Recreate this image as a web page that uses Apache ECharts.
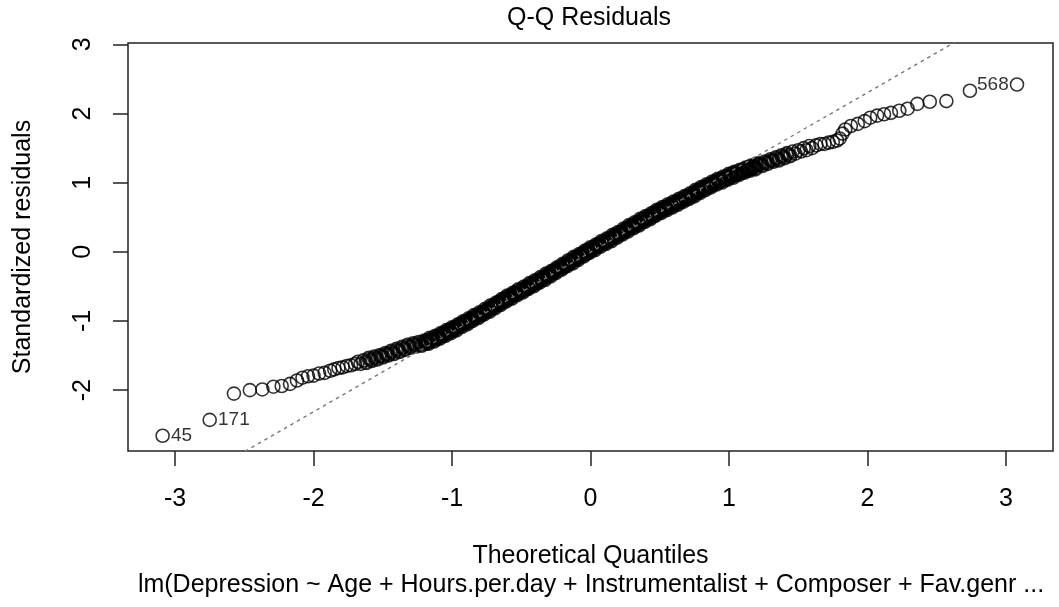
<!DOCTYPE html>
<html>
<head>
<meta charset="utf-8">
<title>Q-Q Residuals</title>
<script src="https://cdn.jsdelivr.net/npm/echarts@6.0.0/dist/echarts.min.js"></script>
<style>
  html, body { margin: 0; padding: 0; background: #fff; }
  #chart { width: 1059px; height: 607px; }
</style>
</head>
<body>
<div id="chart"></div>
<script>
// theoretical quantiles / standardized residuals
// lower tail (first two points are the labelled 45 and 171)
var qLow = [-3.09, -2.75, -2.575, -2.46, -2.37, -2.29, -2.23, -2.17,
  -2.12, -2.08, -2.04, -2.00, -1.96, -1.92, -1.88, -1.85, -1.82, -1.79,
  -1.76, -1.73, -1.70,
  -1.68, -1.66, -1.64, -1.62, -1.60, -1.58, -1.56, -1.54, -1.52, -1.50,
  -1.48, -1.46, -1.44, -1.42, -1.40, -1.38, -1.36, -1.34, -1.32, -1.30,
  -1.28, -1.26, -1.24, -1.22];
var resLow = [-2.66, -2.43, -2.05, -2.00, -1.99, -1.95, -1.94, -1.91,
  -1.86, -1.82, -1.80, -1.79, -1.76, -1.75, -1.72, -1.70, -1.68, -1.67,
  -1.65, -1.64, -1.62,
  -1.59, -1.62, -1.57, -1.60, -1.54, -1.57, -1.52, -1.55, -1.50, -1.52,
  -1.47, -1.49, -1.44, -1.47, -1.41, -1.44, -1.38, -1.41, -1.35, -1.38,
  -1.33, -1.36, -1.31, -1.35];

// dense middle part (points overlap into a solid band)
var qMid = [
  -1.20, -1.19, -1.18, -1.17, -1.16, -1.15, -1.14, -1.13, -1.12, -1.11,
  -1.10, -1.09, -1.08, -1.07, -1.06, -1.05, -1.04, -1.03, -1.02, -1.01,
  -1.00, -0.99, -0.98, -0.97, -0.96, -0.95, -0.94, -0.93, -0.92, -0.91,
  -0.90, -0.89, -0.88, -0.87, -0.86, -0.85, -0.84, -0.83, -0.82, -0.81,
  -0.80, -0.79, -0.78, -0.77, -0.76, -0.75, -0.74, -0.73, -0.72, -0.71,
  -0.70, -0.69, -0.68, -0.67, -0.66, -0.65, -0.64, -0.63, -0.62, -0.61,
  -0.60, -0.59, -0.58, -0.57, -0.56, -0.55, -0.54, -0.53, -0.52, -0.51,
  -0.50, -0.49, -0.48, -0.47, -0.46, -0.45, -0.44, -0.43, -0.42, -0.41,
  -0.40, -0.39, -0.38, -0.37, -0.36, -0.35, -0.34, -0.33, -0.32, -0.31,
  -0.30, -0.29, -0.28, -0.27, -0.26, -0.25, -0.24, -0.23, -0.22, -0.21,
  -0.20, -0.19, -0.18, -0.17, -0.16, -0.15, -0.14, -0.13, -0.12, -0.11,
  -0.10, -0.09, -0.08, -0.07, -0.06, -0.05, -0.04, -0.03, -0.02, -0.01,
  0.00, 0.01, 0.02, 0.03, 0.04, 0.05, 0.06, 0.07, 0.08, 0.09,
  0.10, 0.11, 0.12, 0.13, 0.14, 0.15, 0.16, 0.17, 0.18, 0.19,
  0.20, 0.21, 0.22, 0.23, 0.24, 0.25, 0.26, 0.27, 0.28, 0.29,
  0.30, 0.31, 0.32, 0.33, 0.34, 0.35, 0.36, 0.37, 0.38, 0.39,
  0.40, 0.41, 0.42, 0.43, 0.44, 0.45, 0.46, 0.47, 0.48, 0.49,
  0.50, 0.51, 0.52, 0.53, 0.54, 0.55, 0.56, 0.57, 0.58, 0.59,
  0.60, 0.61, 0.62, 0.63, 0.64, 0.65, 0.66, 0.67, 0.68, 0.69,
  0.70, 0.71, 0.72, 0.73, 0.74, 0.75, 0.76, 0.77, 0.78, 0.79,
  0.80, 0.81, 0.82, 0.83, 0.84, 0.85, 0.86, 0.87, 0.88, 0.89,
  0.90, 0.91, 0.92, 0.93, 0.94, 0.95, 0.96, 0.97, 0.98, 0.99,
  1.00, 1.01, 1.02, 1.03, 1.04, 1.05, 1.06, 1.07, 1.08, 1.09,
  1.10, 1.11, 1.12, 1.13, 1.14, 1.15, 1.16, 1.17, 1.18, 1.19,
  1.20];
var resMid = [
  -1.29, -1.32, -1.29, -1.32, -1.25, -1.28, -1.26, -1.29, -1.22, -1.25,
  -1.22, -1.25, -1.18, -1.21, -1.18, -1.21, -1.14, -1.17, -1.14, -1.17,
  -1.10, -1.13, -1.10, -1.13, -1.06, -1.08, -1.05, -1.08, -1.01, -1.04,
  -1.01, -1.04, -0.97, -1.00, -0.97, -0.99, -0.92, -0.95, -0.92, -0.95,
  -0.88, -0.91, -0.88, -0.90, -0.83, -0.86, -0.83, -0.86, -0.78, -0.81,
  -0.78, -0.81, -0.74, -0.76, -0.73, -0.76, -0.69, -0.72, -0.68, -0.71,
  -0.64, -0.67, -0.64, -0.67, -0.60, -0.62, -0.59, -0.62, -0.55, -0.58,
  -0.55, -0.58, -0.51, -0.54, -0.51, -0.53, -0.46, -0.49, -0.46, -0.49,
  -0.42, -0.45, -0.42, -0.44, -0.37, -0.40, -0.37, -0.40, -0.32, -0.35,
  -0.32, -0.35, -0.28, -0.30, -0.27, -0.30, -0.23, -0.26, -0.22, -0.25,
  -0.18, -0.21, -0.18, -0.20, -0.13, -0.16, -0.13, -0.16, -0.08, -0.11,
  -0.08, -0.11, -0.04, -0.06, -0.03, -0.06, 0.01, -0.02, 0.02, -0.01,
  0.06, 0.03, 0.06, 0.03, 0.10, 0.08, 0.11, 0.08, 0.15, 0.12,
  0.15, 0.12, 0.19, 0.16, 0.19, 0.16, 0.24, 0.21, 0.24, 0.21,
  0.28, 0.25, 0.28, 0.26, 0.33, 0.30, 0.33, 0.30, 0.38, 0.35,
  0.38, 0.35, 0.42, 0.39, 0.42, 0.39, 0.47, 0.44, 0.47, 0.44,
  0.51, 0.48, 0.51, 0.48, 0.55, 0.52, 0.56, 0.53, 0.60, 0.57,
  0.60, 0.57, 0.64, 0.61, 0.64, 0.61, 0.68, 0.65, 0.68, 0.65,
  0.72, 0.69, 0.72, 0.69, 0.76, 0.73, 0.76, 0.73, 0.80, 0.77,
  0.80, 0.77, 0.84, 0.81, 0.84, 0.81, 0.89, 0.86, 0.89, 0.86,
  0.93, 0.90, 0.93, 0.90, 0.97, 0.94, 0.97, 0.94, 1.01, 0.98,
  1.01, 0.98, 1.05, 1.02, 1.05, 1.01, 1.08, 1.05, 1.08, 1.05,
  1.12, 1.09, 1.12, 1.08, 1.15, 1.12, 1.15, 1.12, 1.18, 1.15,
  1.18, 1.15, 1.21, 1.18, 1.21, 1.18, 1.24, 1.21, 1.24, 1.20,
  1.27];

// upper tail (last point is the labelled 568)
var qHigh = [1.22, 1.24, 1.26, 1.28, 1.30, 1.32, 1.34, 1.36, 1.38, 1.40,
  1.42, 1.44, 1.46, 1.48, 1.50, 1.52, 1.54, 1.56, 1.58, 1.60,
  1.63, 1.66, 1.69, 1.72, 1.75, 1.78, 1.80, 1.82,
  1.84, 1.88, 1.93, 1.98, 2.02, 2.07, 2.12, 2.17, 2.23, 2.29, 2.36, 2.45,
  2.57, 2.74, 3.08];
var resHigh = [1.27, 1.25, 1.30, 1.28, 1.33, 1.31, 1.36, 1.33, 1.39, 1.36,
  1.42, 1.39, 1.45, 1.42, 1.47, 1.45, 1.50, 1.47, 1.53, 1.50,
  1.54, 1.56, 1.56, 1.58, 1.59, 1.61, 1.64, 1.71,
  1.77, 1.82, 1.85, 1.89, 1.94, 1.97, 1.99, 2.01, 2.04, 2.07, 2.14, 2.17,
  2.18, 2.33, 2.42];

// dotted reference line (qqline), two ends
var refQ = [-3.34, 3.34];
var refRes = [-3.86, 3.85];

var idLabels = ['45', '171', '568'];
var xTicks = [-3, -2, -1, 0, 1, 2, 3];
var yTicks = [-2, -1, 0, 1, 2, 3];

// where the circles pile up so much the band turns solid
var denseFrom = -1.62;
var denseTo = 1.44;

var FONT = '"Liberation Sans", Arial, Helvetica, sans-serif';

var theoQ = qLow.concat(qMid, qHigh);
var stdRes = resLow.concat(resMid, resHigh);
var n = theoQ.length;
var idIndex = [0, 1, n - 1];

var sparsePts = [];
var densePts = [];
for (var i = 0; i < n; i++) {
  var item = { value: [theoQ[i], stdRes[i]] };
  var k = idIndex.indexOf(i);
  if (k >= 0) {
    item.label = {
      show: true,
      formatter: idLabels[k],
      position: theoQ[i] < 0 ? 'right' : 'left',
      distance: 1,
      fontSize: 19,
      fontFamily: FONT,
      color: '#000'
    };
  }
  if (theoQ[i] >= denseFrom && theoQ[i] <= denseTo) densePts.push(item);
  else sparsePts.push(item);
}

var refLine = [];
for (var j = 0; j < refQ.length; j++) refLine.push([refQ[j], refRes[j]]);

var chart = echarts.init(document.getElementById('chart'));
var option = {
  animation: false,
  backgroundColor: '#fff',
  grid: {
    left: 128, top: 43, width: 925, height: 408,
    show: true, borderColor: '#222', borderWidth: 1.5
  },
  xAxis: {
    type: 'value', min: -3.34, max: 3.34,
    name: 'Theoretical Quantiles', nameLocation: 'middle', nameGap: 93,
    nameTextStyle: { fontSize: 25, fontFamily: FONT, color: '#000' },
    axisLine: { show: false, onZero: false },
    splitLine: { show: false },
    axisTick: { show: true, customValues: xTicks, length: 15, lineStyle: { color: '#222', width: 1.5 } },
    axisLabel: { customValues: xTicks, fontSize: 25, fontFamily: FONT, color: '#000', margin: 36 }
  },
  yAxis: {
    type: 'value', min: -2.88, max: 3.02,
    name: 'Standardized residuals', nameLocation: 'middle', nameGap: 92, nameRotate: 90,
    nameTextStyle: { fontSize: 25, fontFamily: FONT, color: '#000' },
    axisLine: { show: false, onZero: false },
    splitLine: { show: false },
    axisTick: { show: true, customValues: yTicks, length: 15, lineStyle: { color: '#222', width: 1.5 } },
    axisLabel: { customValues: yTicks, rotate: 90, fontSize: 25, fontFamily: FONT, color: '#000', margin: 32 }
  },
  graphic: [
    {
      type: 'text', left: 591 - 84, top: 6,
      style: { text: 'Q-Q Residuals', fontSize: 25, fontFamily: FONT, fill: '#000' }
    },
    {
      type: 'text', x: 591, y: 585,
      style: {
        text: 'lm(Depression ~ Age + Hours.per.day + Instrumentalist + Composer + Fav.genr ...',
        fontSize: 25, fontFamily: FONT, fill: '#000', align: 'center', verticalAlign: 'middle'
      }
    }
  ],
  series: [
    {
      type: 'scatter',
      data: sparsePts,
      symbol: 'circle',
      symbolSize: 13,
      itemStyle: { color: 'rgba(0,0,0,0)', borderColor: '#000', borderWidth: 1.6 },
      emphasis: { disabled: true },
      z: 2
    },
    {
      type: 'scatter',
      data: densePts,
      symbol: 'circle',
      symbolSize: 13,
      itemStyle: { color: 'rgba(0,0,0,0)', borderColor: '#000', borderWidth: 2.6 },
      emphasis: { disabled: true },
      z: 2
    },
    {
      type: 'line',
      data: refLine,
      symbol: 'none',
      lineStyle: { color: '#777', width: 1.4, type: [3.5, 4] },
      silent: true,
      z: 3
    }
  ]
};
chart.setOption(option);
</script>
</body>
</html>
